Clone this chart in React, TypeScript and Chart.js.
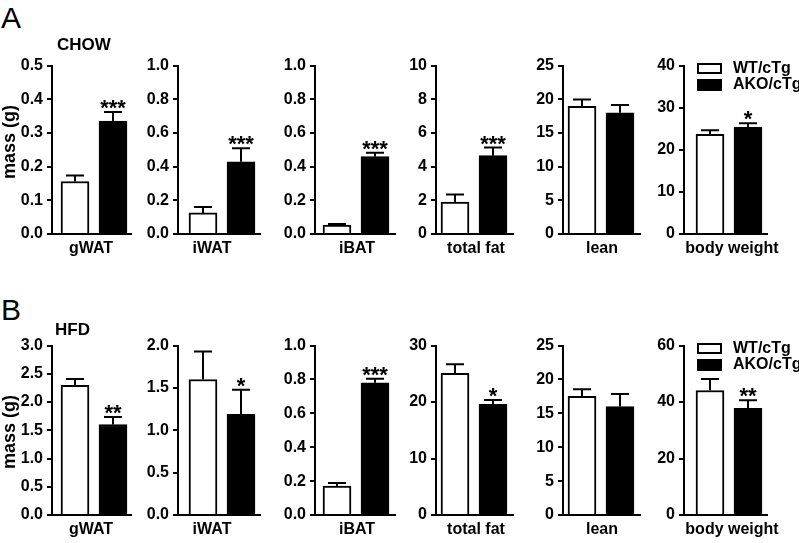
import React, { useEffect, useRef } from 'react';
import { Chart, registerables } from 'chart.js';

Chart.register(...registerables);
Chart.defaults.font.family = '"Liberation Sans", Arial, sans-serif';

// ---------- data ----------
const categories = ['gWAT', 'iWAT', 'iBAT', 'total fat', 'lean', 'body weight'];
const groups = ['WT/cTg', 'AKO/cTg'];

// CHOW (panel A)
const chowWT = [0.156, 0.125, 0.053, 1.9, 18.95, 23.7];
const chowWTsem = [0.018, 0.035, 0.006, 0.44, 1.0, 0.95];
const chowAKO = [0.335, 0.429, 0.46, 4.65, 18.0, 25.4];
const chowAKOsem = [0.027, 0.08, 0.022, 0.48, 1.15, 0.9];
const chowSig = ['***', '***', '***', '***', '', '*'];
const chowMax = [0.5, 1.0, 1.0, 10, 25, 40];
const chowStep = [0.1, 0.2, 0.2, 2, 5, 10];

// HFD (panel B)
const hfdWT = [2.298, 1.6, 0.17, 25.1, 17.5, 44.1];
const hfdWTsem = [0.11, 0.33, 0.019, 1.6, 1.06, 4.1];
const hfdAKO = [1.603, 1.19, 0.78, 19.6, 16.0, 37.8];
const hfdAKOsem = [0.134, 0.29, 0.025, 0.75, 1.87, 2.8];
const hfdSig = ['**', '*', '***', '*', '', '**'];
const hfdMax = [3, 2, 1, 30, 25, 60];
const hfdStep = [0.5, 0.5, 0.2, 10, 5, 20];

const tickDecimals = [1, 1, 1, 0, 0, 0];

// ---------- layout ----------
const AXIS_X = [52, 178, 315, 436, 563, 684];
const PLOT_W = [79, 82, 80, 77, 77, 83];
const FIRST_OFF = [23, 25, 22, 19, 19, 26];
const LABEL_X = [91, 212, 357, 476, 602, 732];
const PITCH = 38;
const ROWS = [
  { top: 64, bottom: 234 },
  { top: 344, bottom: 515 },
];
const FONT = '"Liberation Sans", Arial, sans-serif';
const PADL = 48, PADT = 12, PADR = 30, XH = 30;

type PanelProps = {
  means: number[]; sems: number[]; sig: string[];
  yMax: number; yStep: number; dec: number; label: string; labelX: number;
  axisX: number; plotW: number; firstOff: number; top: number; bottom: number;
};

function Panel(p: PanelProps) {
  const ref = useRef<HTMLCanvasElement>(null);
  const w = PADL + p.plotW + PADR;
  const h = PADT + (p.bottom - p.top) + XH;
  const canvasLeft = p.axisX - PADL;
  useEffect(() => {
    const errPlugin = {
      id: 'errbars',
      afterDatasetsDraw(chart: any) {
        const ctx = chart.ctx;
        const xs = chart.scales.x;
        const ys = chart.scales.y;
        ctx.save();
        ctx.strokeStyle = '#000';
        ctx.fillStyle = '#000';
        ctx.lineWidth = 2;
        p.means.forEach((m, i) => {
          const x = xs.getPixelForValue(i);
          const y0 = ys.getPixelForValue(m);
          const y1 = ys.getPixelForValue(m + p.sems[i]);
          ctx.beginPath();
          ctx.moveTo(x, y0);
          ctx.lineTo(x, y1);
          ctx.moveTo(x - 9, y1);
          ctx.lineTo(x + 9, y1);
          ctx.stroke();
          if (p.sig[i]) {
            ctx.font = 'bold 22px ' + FONT;
            ctx.textAlign = 'center';
            ctx.textBaseline = 'alphabetic';
            ctx.fillText(p.sig[i], x, y1 + 3);
          }
        });
        // category label under the axis
        ctx.font = 'bold 16px ' + FONT;
        ctx.textAlign = 'center';
        ctx.textBaseline = 'alphabetic';
        ctx.fillText(p.label, p.labelX - canvasLeft, chart.chartArea.bottom + 19);
        ctx.restore();
      },
    };
    const chart = new Chart(ref.current as HTMLCanvasElement, {
      type: 'bar',
      data: {
        datasets: [
          {
            label: groups.join(' / '),
            data: p.means.map((v, i) => ({ x: i, y: v })),
            backgroundColor: ['#ffffff', '#000000'],
            borderColor: '#000',
            borderWidth: 2,
            barThickness: 28,
            borderSkipped: 'start',
          } as any,
        ],
      },
      options: {
        responsive: false,
        animation: false,
        devicePixelRatio: 1,
        layout: { padding: { top: PADT, right: PADR, bottom: 0, left: 0 } },
        plugins: { legend: { display: false }, tooltip: { enabled: false } },
        scales: {
          x: {
            type: 'linear',
            offset: false,
            min: -p.firstOff / PITCH,
            max: (p.plotW - p.firstOff) / PITCH,
            ticks: { display: false },
            grid: { display: false },
            border: { display: true, color: '#000', width: 2 },
            afterFit: (s: any) => { s.height = XH; },
          },
          y: {
            min: 0,
            max: p.yMax,
            ticks: {
              stepSize: p.yStep,
              color: '#000',
              font: { size: 16, weight: 'bold' },
              padding: 4,
              callback: (v: any) => Number(v).toFixed(p.dec),
            },
            grid: { drawOnChartArea: false, drawTicks: true, tickLength: 5, color: '#000', lineWidth: 2 },
            border: { display: true, color: '#000', width: 2 },
            afterFit: (s: any) => { s.width = PADL; },
          },
        } as any,
      },
      plugins: [errPlugin],
    });
    return () => chart.destroy();
  }, []);
  return (
    <canvas
      ref={ref}
      width={w}
      height={h}
      style={{ position: 'absolute', left: canvasLeft, top: p.top - PADT, width: w, height: h }}
    />
  );
}

function Txt({ x, base, size, bold, children }: any) {
  return (
    <div
      style={{
        position: 'absolute', left: x, top: base - 0.8465 * size, fontSize: size, lineHeight: 1,
        fontWeight: bold ? 'bold' : 'normal', fontFamily: FONT, whiteSpace: 'nowrap', color: '#000',
      }}
    >
      {children}
    </div>
  );
}

function Legend({ top }: { top: number }) {
  return (
    <>
      <div style={{ position: 'absolute', left: 697, top: top - 1, width: 25, height: 11, boxSizing: 'border-box', border: '2px solid #000', background: '#fff' }} />
      <div style={{ position: 'absolute', left: 697, top: top + 15, width: 25, height: 12, background: '#000' }} />
      <Txt x={733} base={top + 10} size={16} bold>{groups[0]}</Txt>
      <Txt x={733} base={top + 26} size={16} bold>{groups[1]}</Txt>
    </>
  );
}

function YTitle({ cy }: { cy: number }) {
  return (
    <div
      style={{
        position: 'absolute', left: 9, top: cy, transform: 'translate(-50%, -50%) rotate(-90deg)',
        fontSize: 18, lineHeight: 1, fontWeight: 'bold', fontFamily: FONT, whiteSpace: 'nowrap',
      }}
    >
      mass (g)
    </div>
  );
}

export default function App() {
  const rowsData = [
    { wt: chowWT, wts: chowWTsem, ako: chowAKO, akos: chowAKOsem, sig: chowSig, max: chowMax, step: chowStep },
    { wt: hfdWT, wts: hfdWTsem, ako: hfdAKO, akos: hfdAKOsem, sig: hfdSig, max: hfdMax, step: hfdStep },
  ];
  return (
    <div style={{ position: 'absolute', left: 0, top: 0, width: 799, height: 543, background: '#fff', overflow: 'hidden' }}>
      {rowsData.map((r, ri) =>
        categories.map((c, ci) => (
          <Panel
            key={ri + '-' + ci}
            means={[r.wt[ci], r.ako[ci]]}
            sems={[r.wts[ci], r.akos[ci]]}
            sig={['', r.sig[ci]]}
            yMax={r.max[ci]}
            yStep={r.step[ci]}
            dec={tickDecimals[ci]}
            label={c}
            labelX={LABEL_X[ci]}
            axisX={AXIS_X[ci]}
            plotW={PLOT_W[ci]}
            firstOff={FIRST_OFF[ci]}
            top={ROWS[ri].top}
            bottom={ROWS[ri].bottom}
          />
        ))
      )}
      <Txt x={1} base={28} size={30}>A</Txt>
      <Txt x={1} base={320} size={30}>B</Txt>
      <Txt x={57} base={50} size={17} bold>CHOW</Txt>
      <Txt x={55} base={335} size={17} bold>HFD</Txt>
      <YTitle cy={142} />
      <YTitle cy={432} />
      <Legend top={ROWS[0].top} />
      <Legend top={ROWS[1].top} />
    </div>
  );
}
